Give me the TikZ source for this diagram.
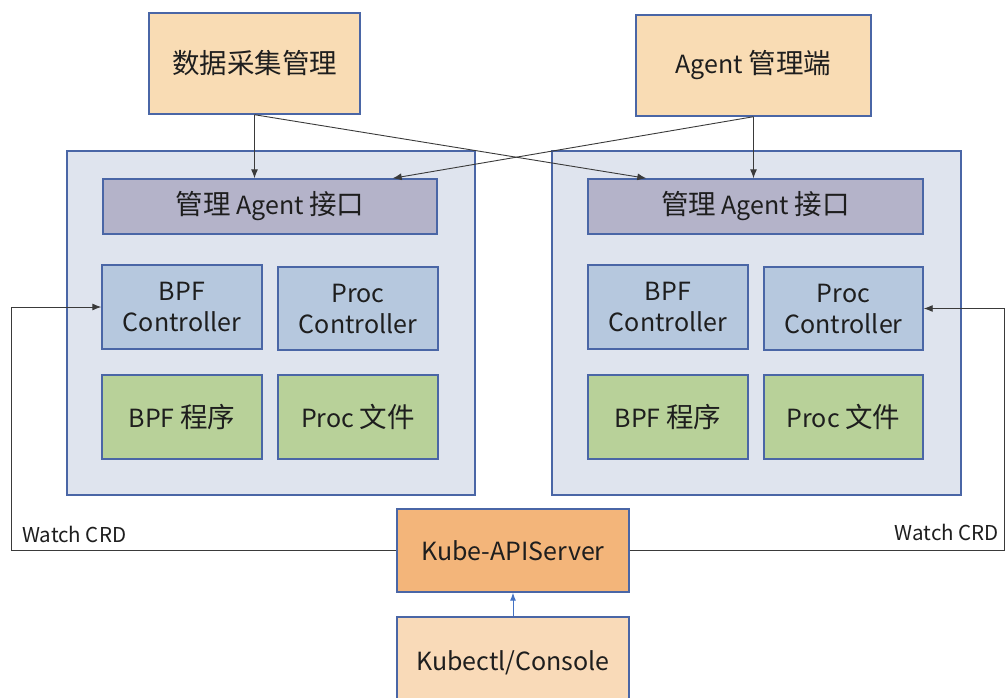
\documentclass[tikz,border=0pt]{standalone}
\usepackage{fontspec}
\setmainfont{Noto Sans CJK SC}
\newfontfamily\zhfont{Noto Sans CJK SC}[Scale=1.1]
\newcommand{\zh}[1]{{\zhfont #1}}
\usetikzlibrary{arrows.meta}

\definecolor{peach}{HTML}{F9DCB4}
\definecolor{edgeblue}{HTML}{4A66A6}
\definecolor{hostfill}{HTML}{DFE4EE}
\definecolor{ifacefill}{HTML}{B4B3C9}
\definecolor{ctrlfill}{HTML}{B6C8DE}
\definecolor{progfill}{HTML}{B8D199}
\definecolor{apifill}{HTML}{F3B57A}
\definecolor{clifill}{HTML}{F9DAB8}
\definecolor{ink}{HTML}{1E1E1E}
\definecolor{wire}{HTML}{3A3A3A}
\definecolor{bluearrow}{HTML}{4472C4}

\tikzset{
  box/.style={draw=edgeblue, line width=1.4pt, rectangle, inner sep=0pt,
    text=ink, align=center, font=\fontsize{25}{30}\selectfont},
  host/.style={draw=edgeblue, line width=1.4pt, fill=hostfill, rectangle, inner sep=0pt},
  arr/.style={draw=wire, line width=0.9pt, -{Latex[length=9pt,width=7pt]}},
  lbl/.style={text=ink, font=\fontsize{20.5}{22}\selectfont, inner sep=0pt}
}

\begin{document}
\begin{tikzpicture}[x=1pt,y=-1pt]
  \useasboundingbox (0,0) rectangle (1005,697);
  \clip (0,0) rectangle (1005,697);

  % management services
  \node[box, fill=peach, minimum width=211pt, minimum height=101pt] (dc) at (254.5,63.5) {\zh{数据采集管理}};
  \node[box, fill=peach, minimum width=235pt, minimum height=101pt] (am) at (753.5,65.5) {Agent \zh{管理端}};

  % two agent hosts
  \node[host, minimum width=408pt, minimum height=344pt] (lhost) at (271,323) {};
  \node[host, minimum width=409pt, minimum height=344pt] (rhost) at (756.5,323) {};

  \node[box, fill=ifacefill, minimum width=334pt, minimum height=55pt] (lI) at (270,206.5) {\zh{管理} Agent \zh{接口}};
  \node[box, fill=ifacefill, minimum width=335pt, minimum height=55pt] (rI) at (755.5,206.5) {\zh{管理} Agent \zh{接口}};

  \node[box, fill=ctrlfill, minimum width=160pt, minimum height=84pt] (lBC) at (182,307) {BPF\\[1pt]Controller};
  \node[box, fill=ctrlfill, minimum width=160pt, minimum height=83pt] (lPC) at (358,308.5) {Proc\\[1pt]Controller};
  \node[box, fill=progfill, minimum width=160pt, minimum height=84pt] (lBP) at (182,417) {BPF \zh{程序}};
  \node[box, fill=progfill, minimum width=160pt, minimum height=84pt] (lPF) at (358,417) {Proc \zh{文件}};

  \node[box, fill=ctrlfill, minimum width=160pt, minimum height=84pt] (rBC) at (668,307) {BPF\\[1pt]Controller};
  \node[box, fill=ctrlfill, minimum width=159pt, minimum height=83pt] (rPC) at (843.5,308.5) {Proc\\[1pt]Controller};
  \node[box, fill=progfill, minimum width=160pt, minimum height=84pt] (rBP) at (668,417) {BPF \zh{程序}};
  \node[box, fill=progfill, minimum width=159pt, minimum height=84pt] (rPF) at (843.5,417) {Proc \zh{文件}};

  % cluster side
  \node[box, fill=apifill, minimum width=232pt, minimum height=83pt] (api) at (513,550.5) {Kube-APIServer};
  \node[box, fill=clifill, minimum width=232pt, minimum height=100pt] (cli) at (513,667) {};
  \node[text=ink, font=\fontsize{25}{30}\selectfont] (clitext) at (513,663) {Kubectl/Console};

  % management links
  \draw[arr] (dc.south) -- (dc.south |- lI.north);
  \draw[arr] (dc.south) -- ([xshift=59pt]rI.north west);
  \draw[arr] (am.south) -- (am.south |- rI.north);
  \draw[arr] (am.south) -- ([xshift=-45pt]lI.north east);

  % CRD watches
  \coordinate (lbend) at (11,550.5);
  \coordinate (rbend) at (1004,550.5);
  \draw[arr] (api.west) -- (lbend) |- (lBC.west);
  \draw[arr] (api.east) -- (rbend) |- (rPC.east);
  \node[lbl, anchor=base west] (lwatch) at (22,542) {Watch CRD};
  \node[lbl, anchor=base east] (rwatch) at (999,540) {Watch CRD};

  \draw[draw=bluearrow, line width=1pt, -{Latex[length=8pt,width=6pt]}] (cli.north) -- (api.south);
\end{tikzpicture}
\end{document}
